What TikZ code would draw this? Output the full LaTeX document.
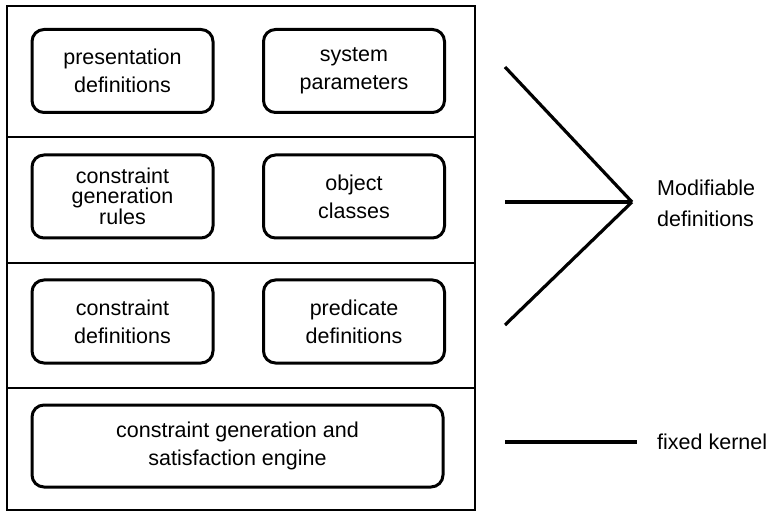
\documentclass[tikz,border=0pt]{standalone}
\usepackage{fontspec}
\setmainfont{Liberation Sans}
\begin{document}
\begin{tikzpicture}[x=1pt,y=-1pt,
  frame/.style={line width=1.4pt},
  unit/.style={draw, line width=3pt, rounded corners=12pt, inner sep=0pt,
    minimum width=181pt, minimum height=83pt, align=center,
    font=\fontsize{21.5}{28}\selectfont},
  tight/.style={font=\fontsize{21.5}{20}\selectfont},
  bracket/.style={line width=3.2pt},
  label/.style={anchor=west, inner sep=0pt, align=left,
    font=\fontsize{21.5}{31}\selectfont}]
\useasboundingbox (0,0) rectangle (769,513);

% layered frame
\draw[frame] (7,6) rectangle (475,510);
\draw[frame] (7,137) -- (475,137);
\draw[frame] (7,263) -- (475,263);
\draw[frame] (7,388) -- (475,388);

% modules
\node[unit] (pres) at (122.5,71) {presentation\\definitions};
\node[unit] (sys) at (354,71) {system\\parameters};
\node[unit, tight] (cgr) at (122.5,196.5) {constraint\\generation\\rules};
\node[unit] (obj) at (354,196.5) {object\\classes};
\node[unit] (cdef) at (122.5,321.5) {constraint\\definitions};
\node[unit] (pdef) at (354,321.5) {predicate\\definitions};
\node[unit, minimum width=411pt, minimum height=82pt] (engine) at (237.5,446)
  {constraint generation and\\satisfaction engine};

% legend
\coordinate (apex) at (632,202);
\coordinate (m1) at (505,67);
\coordinate (m2) at (505,202);
\coordinate (m3) at (505,325);
\draw[bracket] (m1) -- (apex);
\draw[bracket] (m2) -- (apex);
\draw[bracket] (m3) -- (apex);
\node[label] (mod) at (657,203) {Modifiable\\definitions};

\coordinate (k1) at (505,442);
\coordinate (k2) at (637,442);
\draw[bracket] (k1) -- (k2);
\node[label] (fixed) at (657,442) {fixed kernel};
\end{tikzpicture}
\end{document}
